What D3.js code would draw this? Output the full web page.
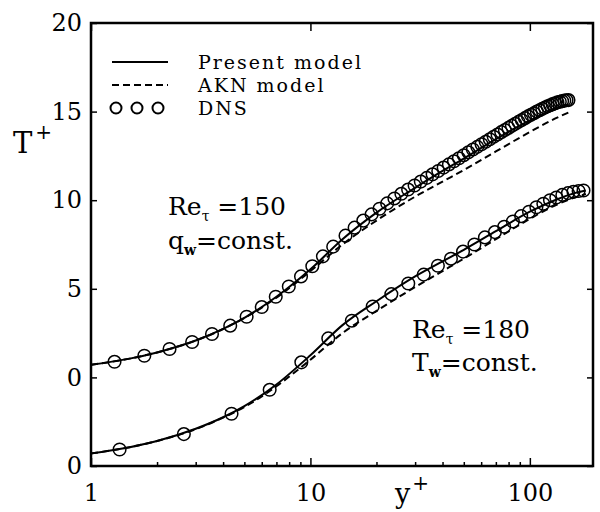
<!DOCTYPE html>
<html><head><meta charset="utf-8">
<script src="https://cdn.jsdelivr.net/npm/d3@7"></script>
<style>body{margin:0;background:#fff}svg{display:block}</style>
</head><body>
<svg id="c" width="600" height="512"></svg>
<script>
// ---------- data ----------
const xTickValues = [1, 10, 100];
const xTickLabels = ["1", "10", "100"];
const xMinorTicks = [2,3,4,5,6,7,8,9,20,30,40,50,60,70,80,90];
const yTickValues = [0, 5, 10, 15, 20, 25];
const yTickLabels = ["0", "0", "5", "10", "15", "20"];
const upperOffset = 5; // the Re=150 curves are shifted up by 5

// Re_tau=150, q_w=const (upper set)
const upDNSy = [1.28,1.75,2.28,2.89,3.56,4.31,5.12,6.0,6.95,7.97,9.06,10.2,11.4,12.7,14.45,15.9,17.42,19.0,20.65,22.37,24.14,25.97,27.87,29.83,31.84,33.92,36.04,38.24,40.47,42.77,45.11,47.51,49.96,52.46,55.0,57.6,60.23,62.92,65.65,68.41,71.22,74.06,76.95,79.87,82.83,85.82,88.84,91.89,94.97,98.08,101.2,104.37,107.55,110.75,113.98,117.22,120.47,123.75,127.03,130.33,133.64,136.95,140.27,143.59,146.93,150];
const upDNST = [0.88,1.22,1.6,2.0,2.45,2.92,3.42,3.97,4.55,5.13,5.7,6.27,6.83,7.38,8.0,8.45,8.85,9.2,9.52,9.82,10.1,10.36,10.6,10.83,11.05,11.26,11.46,11.65,11.84,12.02,12.2,12.37,12.54,12.7,12.86,13.01,13.16,13.3,13.44,13.58,13.71,13.84,13.96,14.08,14.2,14.31,14.42,14.53,14.63,14.73,14.82,14.91,15.0,15.08,15.16,15.23,15.3,15.36,15.42,15.47,15.52,15.56,15.59,15.62,15.64,15.65];
const upModelY = [1,1.5,2,3,4,5,7,10,14,20,30,40,50,70,100,130,150];
const upPresentT = [0.71,1.06,1.41,2.08,2.74,3.36,4.55,6.1,7.8,9.3,10.7,11.65,12.35,13.45,14.5,15.15,15.4];
const upAKNT = [0.71,1.06,1.41,2.08,2.73,3.35,4.5,6.0,7.5,8.85,10.2,11.05,11.7,12.75,13.85,14.6,14.95];

// Re_tau=180, T_w=const (lower set)
const loDNSy = [1.35,2.65,4.37,6.52,9.09,12.06,15.44,19.22,23.38,27.92,32.83,38.1,43.7,49.6,55.9,62.4,69.3,76.4,83.7,91.3,99.1,107.1,115.2,123.5,132.0,140.6,149.2,158.0,166.8,175.6];
const loDNST = [0.93,1.8,2.95,4.3,5.85,7.2,8.2,9.0,9.7,10.3,10.8,11.3,11.7,12.1,12.5,12.9,13.2,13.5,13.8,14.1,14.35,14.6,14.8,15.0,15.15,15.3,15.4,15.48,15.52,15.55];
const loModelY = [1,1.5,2,3,4,5,7,10,14,20,30,40,50,70,100,130,160,180];
const loPresentT = [0.71,1.06,1.41,2.1,2.75,3.38,4.6,6.25,7.95,9.3,10.7,11.55,12.2,13.25,14.35,15.0,15.4,15.55];
const loAKNT = [0.71,1.06,1.41,2.08,2.73,3.33,4.5,6.0,7.5,8.75,10.1,11.0,11.7,12.8,13.95,14.7,15.15,15.35];

const legendLabels = ["Present model", "AKN model", "DNS"];

// ---------- chart ----------
const svg = d3.select("#c");
const L = 91, R = 593, T = 23, B = 466;
const x = d3.scaleLog().domain([1, 194]).range([L, R]);
const y = d3.scaleLinear().domain([0, 25]).range([B, T]);
const serif = "'DejaVu Serif', serif";

const g = svg.append("g");
svg.append("clipPath").attr("id","clip").append("rect")
  .attr("x", L).attr("y", T).attr("width", R-L).attr("height", B-T);

function axisStyle(sel){
  sel.select(".domain").remove();
  sel.selectAll(".tick line").attr("stroke","#000").attr("stroke-width",1.5);
  sel.selectAll(".tick text").attr("font-family", serif).attr("font-size", 24).attr("fill","#000");
}
g.append("g").attr("transform",`translate(0,${B})`)
  .call(d3.axisBottom(x).tickValues(xTickValues).tickSize(-8).tickPadding(18)
    .tickFormat((d,i)=>xTickLabels[i])).call(axisStyle);
g.append("g").attr("transform",`translate(0,${B})`)
  .call(d3.axisBottom(x).tickValues(xMinorTicks).tickSize(-4).tickFormat(""))
  .call(axisStyle);
g.append("g").attr("transform",`translate(0,${T})`)
  .call(d3.axisTop(x).tickValues(xTickValues).tickSize(-8).tickFormat(""))
  .call(axisStyle);
g.append("g").attr("transform",`translate(${L},0)`)
  .call(d3.axisLeft(y).tickValues(yTickValues).tickSize(-6).tickPadding(9)
    .tickFormat((d,i)=>yTickLabels[i])).call(axisStyle);
g.append("g").attr("transform",`translate(${R},0)`)
  .call(d3.axisRight(y).tickValues(yTickValues).tickSize(-6).tickFormat(""))
  .call(axisStyle);

g.append("rect").attr("x",L).attr("y",T).attr("width",R-L).attr("height",B-T)
  .attr("fill","none").attr("stroke","#000").attr("stroke-width",2.5);

const tl = g.append("text").attr("x",13).attr("y",153).attr("font-family",serif)
  .attr("font-size",29).attr("fill","#000");
tl.append("tspan").text("T");
tl.append("tspan").attr("font-size",20).attr("dy",-14).attr("dx",3).text("+");
const xl = g.append("text").attr("x",395).attr("y",503).attr("font-family",serif)
  .attr("font-size",27).attr("fill","#000");
xl.append("tspan").text("y");
xl.append("tspan").attr("font-size",20).attr("dy",-13).attr("dx",2).text("+");

const plot = g.append("g").attr("clip-path","url(#clip)");
function drawLine(xs, ts, off, dash){
  const pts = xs.map((v,i)=>[v, ts[i]+off]);
  plot.append("path").datum(pts)
    .attr("d", d3.line().x(d=>x(d[0])).y(d=>y(d[1])).curve(d3.curveMonotoneX))
    .attr("fill","none").attr("stroke","#000").attr("stroke-width",2)
    .attr("stroke-dasharray", dash ? "7,4" : null);
}
function drawPts(xs, ts, off){
  plot.append("g").selectAll("circle").data(xs.map((v,i)=>[v, ts[i]+off])).join("circle")
    .attr("cx", d=>x(d[0])).attr("cy", d=>y(d[1])).attr("r",6.3)
    .attr("fill","none").attr("stroke","#000").attr("stroke-width",1.5);
}
drawLine(upModelY, upAKNT, upperOffset, true);
drawLine(upModelY, upPresentT, upperOffset, false);
drawPts(upDNSy, upDNST, upperOffset);
drawLine(loModelY, loAKNT, 0, true);
drawLine(loModelY, loPresentT, 0, false);
drawPts(loDNSy, loDNST, 0);

const lg = g.append("g");
const legY = [62, 85, 108];
lg.append("line").attr("x1",112).attr("x2",168).attr("y1",legY[0]).attr("y2",legY[0])
  .attr("stroke","#000").attr("stroke-width",2);
lg.append("line").attr("x1",112).attr("x2",168).attr("y1",legY[1]).attr("y2",legY[1])
  .attr("stroke","#000").attr("stroke-width",2).attr("stroke-dasharray","7,4");
lg.selectAll("circle").data([116,137,158]).join("circle")
  .attr("cx",d=>d).attr("cy",legY[2]).attr("r",5.5)
  .attr("fill","none").attr("stroke","#000").attr("stroke-width",2);
lg.selectAll("text").data(legendLabels).join("text")
  .attr("x",198).attr("y",(d,i)=>legY[i]+7).attr("font-family",serif)
  .attr("font-size",19).attr("letter-spacing",2).attr("fill","#000").text(d=>d);

function annot(xp, yp, main, sub, rest, boldSub){
  const t = g.append("text").attr("x",xp).attr("y",yp).attr("font-family",serif)
    .attr("font-size",25).attr("fill","#000");
  t.append("tspan").text(main);
  t.append("tspan").attr("font-size",14).attr("dy",6)
    .attr("font-weight", boldSub ? "bold" : "normal").text(sub);
  t.append("tspan").attr("dy",-6).text(rest);
}
annot(168, 215, "Re", "τ", " =150", false);
annot(168, 249, "q", "w", "=const.", true);
annot(412, 338, "Re", "τ", " =180", false);
annot(412, 371, "T", "w", "=const.", true);
</script>
</body></html>
